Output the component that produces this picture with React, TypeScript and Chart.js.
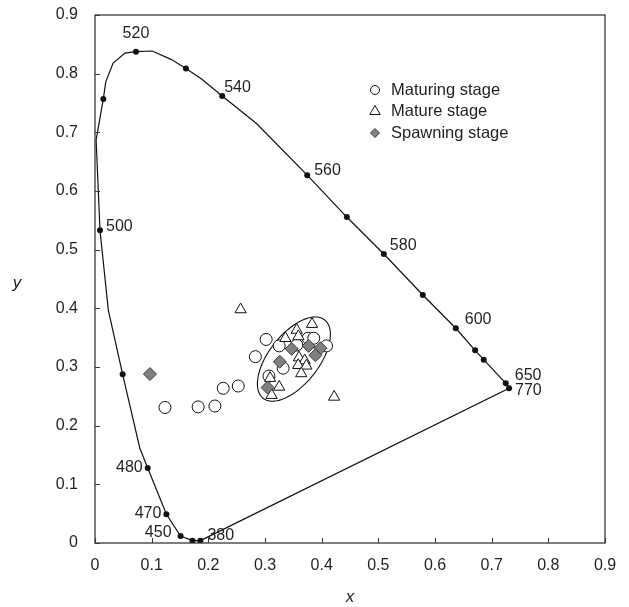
import { useEffect, useRef } from 'react';
import { Chart, registerables } from 'chart.js';

Chart.register(...registerables);

// ---- axis ticks ----
const tickLabels = ['0', '0.1', '0.2', '0.3', '0.4', '0.5', '0.6', '0.7', '0.8', '0.9'];

// ---- spectral locus (line) ----
const locusX = [0.186, 0.172, 0.151, 0.126, 0.093, 0.079, 0.0488, 0.0235, 0.0088, 0.002, 0.0147, 0.019, 0.032, 0.053, 0.0723, 0.101, 0.135, 0.1605, 0.188, 0.2245, 0.285, 0.3745, 0.4444, 0.5097, 0.5785, 0.6367, 0.6708, 0.686, 0.7249, 0.7307, 0.186];
const locusY = [0.004, 0.004, 0.012, 0.049, 0.128, 0.162, 0.2875, 0.397, 0.533, 0.687, 0.757, 0.786, 0.818, 0.835, 0.8375, 0.8386, 0.824, 0.809, 0.791, 0.762, 0.715, 0.627, 0.5556, 0.4926, 0.4227, 0.366, 0.3284, 0.3125, 0.2722, 0.2637, 0.004];

// ---- marked wavelengths on the locus ----
const markNm = [380, 400, 450, 470, 480, 490, 500, 510, 520, 530, 540, 560, 570, 580, 590, 600, 610, 620, 650, 770];
const markX = [0.186, 0.172, 0.151, 0.126, 0.093, 0.0488, 0.0088, 0.0147, 0.0723, 0.1605, 0.2245, 0.3745, 0.4444, 0.5097, 0.5785, 0.6367, 0.6708, 0.686, 0.7249, 0.7307];
const markY = [0.004, 0.004, 0.012, 0.049, 0.128, 0.2875, 0.533, 0.757, 0.8375, 0.809, 0.762, 0.627, 0.5556, 0.4926, 0.4227, 0.366, 0.3284, 0.3125, 0.2722, 0.2637];
const labeledNm = [380, 450, 470, 480, 500, 520, 540, 560, 580, 600, 650, 770];

// ---- samples ----
const maturingX = [0.1235, 0.182, 0.2116, 0.2263, 0.2528, 0.283, 0.302, 0.325, 0.332, 0.307, 0.376, 0.386, 0.4086, 0.356];
const maturingY = [0.231, 0.232, 0.2335, 0.2637, 0.2676, 0.3176, 0.347, 0.336, 0.298, 0.2846, 0.349, 0.349, 0.336, 0.3375];

const matureX = [0.257, 0.383, 0.356, 0.336, 0.359, 0.36, 0.37, 0.3586, 0.373, 0.364, 0.325, 0.309, 0.3116, 0.422];
const matureY = [0.398, 0.373, 0.363, 0.349, 0.352, 0.316, 0.311, 0.303, 0.302, 0.289, 0.266, 0.281, 0.252, 0.249];

const spawningX = [0.097, 0.347, 0.377, 0.398, 0.389, 0.326, 0.3045];
const spawningY = [0.288, 0.331, 0.336, 0.332, 0.32, 0.309, 0.265];

// ---- confidence ellipse (data units) ----
const ellipseCenter = [0.351, 0.3135];
const ellipseMajor = [0.0544, 0.0667];
const ellipseMinor = [0.0345, -0.0265];

// ---- styles ----
const FONT = '"Liberation Sans", Arial, Helvetica, sans-serif';
const TEXT = '#231f20';
const labelStyle: Record<number, [number, number, CanvasTextAlign]> = {
  380: [7, -5, 'left'],
  450: [-9, -3, 'right'],
  470: [-5, -1, 'right'],
  480: [-5, 0, 'right'],
  500: [6, -4, 'left'],
  520: [0, -18, 'center'],
  540: [2, -8, 'left'],
  560: [7, -5, 'left'],
  580: [6, -8, 'left'],
  600: [9, -9, 'left'],
  650: [9, -8, 'left'],
  770: [6, 2, 'left'],
};

const toPts = (xs: number[], ys: number[]) => xs.map((v, i) => ({ x: v, y: ys[i] }));

function drawMarker(ctx: CanvasRenderingContext2D, style: string, cx: number, cy: number, r: number, fill: string, stroke: string) {
  ctx.beginPath();
  if (style === 'circle') {
    ctx.arc(cx, cy, r, 0, Math.PI * 2);
  } else if (style === 'triangle') {
    const w = (r * Math.sqrt(3)) / 2;
    ctx.moveTo(cx, cy - r);
    ctx.lineTo(cx + w, cy + r / 2);
    ctx.lineTo(cx - w, cy + r / 2);
    ctx.closePath();
  } else {
    ctx.moveTo(cx - r, cy);
    ctx.lineTo(cx, cy - r);
    ctx.lineTo(cx + r, cy);
    ctx.lineTo(cx, cy + r);
    ctx.closePath();
  }
  ctx.fillStyle = fill;
  ctx.fill();
  ctx.strokeStyle = stroke;
  ctx.lineWidth = 1;
  ctx.stroke();
}

const overlayPlugin = {
  id: 'overlay',
  beforeDatasetsDraw(chart: any) {
    const { ctx, scales } = chart;
    const sx = scales.x;
    const sy = scales.y;
    ctx.save();
    ctx.beginPath();
    const steps = 120;
    for (let k = 0; k <= steps; k++) {
      const t = (k / steps) * Math.PI * 2;
      const dx = ellipseCenter[0] + Math.cos(t) * ellipseMajor[0] + Math.sin(t) * ellipseMinor[0];
      const dy = ellipseCenter[1] + Math.cos(t) * ellipseMajor[1] + Math.sin(t) * ellipseMinor[1];
      const px = sx.getPixelForValue(dx);
      const py = sy.getPixelForValue(dy);
      if (k === 0) ctx.moveTo(px, py);
      else ctx.lineTo(px, py);
    }
    ctx.strokeStyle = '#111';
    ctx.lineWidth = 1.1;
    ctx.stroke();
    ctx.restore();
  },
  afterDatasetsDraw(chart: any) {
    const { ctx, chartArea, scales } = chart;
    const sx = scales.x;
    const sy = scales.y;
    const { left, right, top, bottom } = chartArea;
    ctx.save();
    // frame
    ctx.strokeStyle = '#3a3a3a';
    ctx.lineWidth = 1.3;
    ctx.strokeRect(left, top, right - left, bottom - top);
    // inward ticks
    ctx.beginPath();
    sx.ticks.forEach((t: any) => {
      const px = Math.round(sx.getPixelForValue(t.value)) + 0.5;
      ctx.moveTo(px, bottom);
      ctx.lineTo(px, bottom - 5);
    });
    sy.ticks.forEach((t: any) => {
      const py = Math.round(sy.getPixelForValue(t.value)) + 0.5;
      ctx.moveTo(left, py);
      ctx.lineTo(left + 5, py);
    });
    ctx.lineWidth = 1.1;
    ctx.stroke();

    // wavelength labels
    ctx.fillStyle = TEXT;
    ctx.font = `16px ${FONT}`;
    ctx.textBaseline = 'middle';
    labeledNm.forEach((nm) => {
      const i = markNm.indexOf(nm);
      if (i < 0) return;
      const st = labelStyle[nm];
      const px = sx.getPixelForValue(markX[i]) + st[0];
      const py = sy.getPixelForValue(markY[i]) + st[1];
      ctx.textAlign = st[2];
      ctx.fillText(String(nm), px, py);
    });

    // legend
    const legendItems = chart.data.datasets.filter((d: any) => d.inLegend).reverse();
    legendItems.forEach((d: any, i: number) => {
      const cy = 90 + i * 21.5;
      drawMarker(ctx, d.pointStyle, 375, cy, d.legendRadius, d.pointBackgroundColor, d.pointBorderColor);
      ctx.fillStyle = TEXT;
      ctx.textAlign = 'left';
      ctx.textBaseline = 'middle';
      ctx.font = `16.5px ${FONT}`;
      ctx.fillText(d.label, 391, cy);
    });

    // axis titles
    ctx.font = `italic 17px ${FONT}`;
    ctx.textAlign = 'center';
    ctx.textBaseline = 'middle';
    ctx.fillStyle = TEXT;
    ctx.fillText('x', (left + right) / 2, 597);
    ctx.fillText('y', 17, 283);
    ctx.restore();
  },
};

export default function App() {
  const ref = useRef<HTMLCanvasElement | null>(null);

  useEffect(() => {
    if (!ref.current) return;
    const tickFont = { family: FONT, size: 16 };
    const chart = new Chart(ref.current, {
      type: 'scatter',
      data: {
        datasets: [
          {
            label: 'Spectral locus',
            data: toPts(locusX, locusY),
            showLine: true,
            borderColor: '#111111',
            borderWidth: 1.2,
            pointRadius: 0,
            tension: 0,
            fill: false,
            order: 5,
          } as any,
          {
            label: 'Wavelength marks',
            data: toPts(markX, markY),
            pointStyle: 'circle',
            pointRadius: 3,
            pointBackgroundColor: '#111111',
            pointBorderColor: '#111111',
            pointBorderWidth: 0,
            showLine: false,
            order: 4,
          } as any,
          {
            label: 'Maturing stage',
            data: toPts(maturingX, maturingY),
            pointStyle: 'circle',
            pointRadius: 6,
            pointBackgroundColor: '#ffffff',
            pointBorderColor: '#111111',
            pointBorderWidth: 1,
            showLine: false,
            order: 3,
            inLegend: true,
            legendRadius: 4.5,
          } as any,
          {
            label: 'Mature stage',
            data: toPts(matureX, matureY),
            pointStyle: 'triangle',
            pointRadius: 6.5,
            pointBackgroundColor: '#ffffff',
            pointBorderColor: '#111111',
            pointBorderWidth: 1,
            showLine: false,
            order: 2,
            inLegend: true,
            legendRadius: 6,
          } as any,
          {
            label: 'Spawning stage',
            data: toPts(spawningX, spawningY),
            pointStyle: 'rectRot',
            pointRadius: 6.5,
            pointBackgroundColor: '#808080',
            pointBorderColor: '#3c3c3c',
            pointBorderWidth: 1,
            showLine: false,
            order: 1,
            inLegend: true,
            legendRadius: 4.5,
          } as any,
        ].reverse(),
      },
      options: {
        animation: false,
        responsive: false,
        maintainAspectRatio: false,
        layout: { padding: { top: 15, right: 24, left: 0, bottom: 0 } },
        plugins: {
          legend: { display: false },
          tooltip: { enabled: false },
          title: { display: false },
        },
        scales: {
          x: {
            type: 'linear',
            min: 0,
            max: 0.9,
            grid: { display: false, drawTicks: false },
            border: { display: false },
            ticks: {
              stepSize: 0.1,
              padding: 13,
              color: TEXT,
              font: tickFont,
              maxRotation: 0,
              autoSkip: false,
              callback: (v: any) => tickLabels[Math.round(Number(v) * 10)],
            },
            afterFit: (s: any) => {
              s.height = 64;
              s.paddingLeft = 0;
              s.paddingRight = 0;
            },
          },
          y: {
            type: 'linear',
            min: 0,
            max: 0.9,
            grid: { display: false, drawTicks: false },
            border: { display: false },
            ticks: {
              stepSize: 0.1,
              padding: 17,
              color: TEXT,
              font: tickFont,
              autoSkip: false,
              callback: (v: any) => tickLabels[Math.round(Number(v) * 10)],
            },
            afterFit: (s: any) => {
              s.width = 95;
              s.paddingTop = 0;
              s.paddingBottom = 0;
            },
          },
        },
      } as any,
      plugins: [overlayPlugin],
    });
    return () => chart.destroy();
  }, []);

  return (
    <div style={{ position: 'absolute', left: 0, top: 0, width: 629, height: 607, background: '#fff' }}>
      <canvas ref={ref} width={629} height={607} style={{ display: 'block', width: 629, height: 607 }} />
    </div>
  );
}
